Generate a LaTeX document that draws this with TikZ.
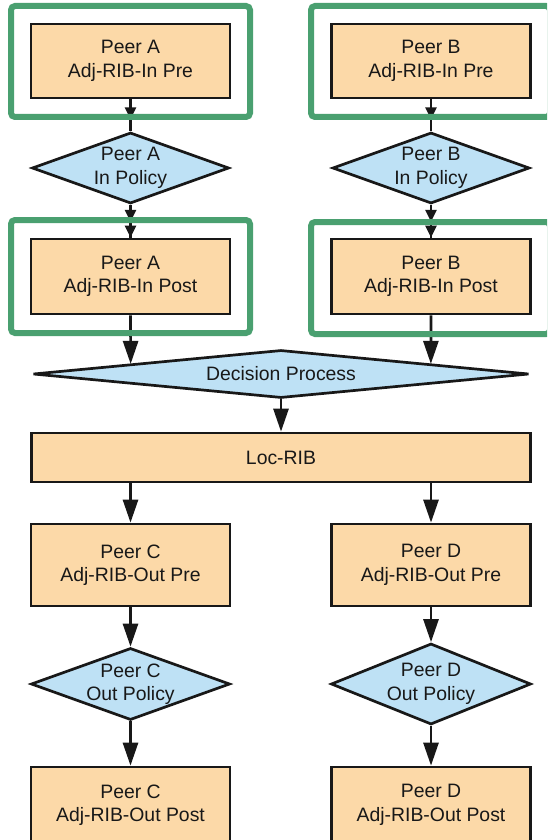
\documentclass[tikz,border=0pt]{standalone}
\usepackage{fontspec}
\setmainfont{Liberation Sans}
\usetikzlibrary{arrows.meta,shapes.geometric,calc,decorations.markings}

\definecolor{ribfill}{RGB}{252,217,168}
\definecolor{polfill}{RGB}{190,225,245}
\definecolor{hlgreen}{RGB}{74,160,112}
\definecolor{ink}{RGB}{24,24,24}

% small arrow head used on the connectors of the inbound section
\newcommand{\smallhead}{\arrow{Triangle[width=11pt,length=12pt]}}

\begin{document}
\begin{tikzpicture}[x=1pt,y=-1pt,
  font=\fontsize{19.4}{23.5}\selectfont,
  rib/.style={draw=ink, line width=2.7pt, fill=ribfill, align=center,
    minimum width=199pt, inner sep=0pt, text=ink},
  pol/.style={diamond, draw=ink, line width=2.7pt, fill=polfill,
    inner sep=0pt, minimum width=197pt, minimum height=71pt},
  plabel/.style={align=center, text=ink, inner sep=0pt},
  bigarr/.style={draw=ink, line width=2.7pt, -{Triangle[width=15pt,length=23pt]}},
  thinline/.style={draw=ink, line width=2.4pt},
  onehead/.style={postaction={decorate},
    decoration={markings, mark=at position #1 with {\smallhead}}},
  twoheads/.style={postaction={decorate},
    decoration={markings, mark=at position #1 with {\smallhead},
      mark=at position 1 with {\smallhead}}},
  hl/.style={draw=hlgreen, line width=6pt, rounded corners=4pt},
]
\useasboundingbox (0,0) rectangle (547,840);
\fill[white] (0,0) rectangle (547,840);
\clip (0,0) rectangle (547,840);

% inbound: pre-policy tables, policies, post-policy tables
\node[rib, minimum height=74pt] (preA) at (130.5,61) {Peer A\\Adj-RIB-In Pre};
\node[rib, minimum height=74pt] (preB) at (431,61) {Peer B\\Adj-RIB-In Pre};
\node[pol, label={[plabel]center:{Peer A\\In Policy}}] (polA) at (130.5,168) {};
\node[pol, label={[plabel]center:{Peer B\\In Policy}}] (polB) at (431,168) {};
\node[rib, minimum height=75pt] (postA) at (130.5,276.5) {Peer A\\Adj-RIB-In Post};
\node[rib, minimum height=75pt] (postB) at (431,276.5) {Peer B\\Adj-RIB-In Post};

% best path selection and the local RIB
\node[pol, minimum width=496pt, minimum height=48pt,
  label={[plabel]center:Decision Process}] (dec) at (281,374) {};
\node[rib, minimum width=499pt, minimum height=49pt] (loc) at (281,457.5) {Loc-RIB};

% outbound: pre-policy tables, policies, post-policy tables
\node[rib, minimum height=82pt] (opreC) at (130.5,565) {Peer C\\Adj-RIB-Out Pre};
\node[rib, minimum height=82pt] (opreD) at (431,565) {Peer D\\Adj-RIB-Out Pre};
\node[pol, minimum width=199pt, minimum height=72pt,
  label={[plabel]center:{Peer C\\Out Policy}}] (opolC) at (130.5,684) {};
\node[pol, minimum width=200pt, minimum height=81pt,
  label={[plabel]center:{Peer D\\Out Policy}}] (opolD) at (431,684) {};
\node[rib, minimum height=76pt] (opostC) at (130.5,805) {Peer C\\Adj-RIB-Out Post};
\node[rib, minimum height=76pt] (opostD) at (431,805) {Peer D\\Adj-RIB-Out Post};

% connectors of the inbound section
\draw[thinline, onehead=0.63] (preA) -- (polA);
\draw[thinline, onehead=0.63] (preB) -- (polB);
\draw[thinline, twoheads=0.52] (polA) -- (postA);
\draw[thinline, twoheads=0.52] (polB) -- (postB);

% into and out of the decision process
\draw[bigarr] (postA) -- ($(dec.west)!0.397!(dec.north)$);
\draw[bigarr] (postB) -- ($(dec.north)!0.601!(dec.east)$);
\draw[bigarr] (dec) -- (loc);

% connectors of the outbound section
\draw[bigarr] (opreC.north |- loc.south) -- (opreC);
\draw[bigarr] (opreD.north |- loc.south) -- (opreD);
\draw[bigarr] (opreC) -- (opolC);
\draw[bigarr] (opreD) -- (opolD);
\draw[bigarr] (opolC) -- (opostC);
\draw[bigarr] (opolD) -- (opostD);

% highlighted tables
\draw[hl] (11,6) rectangle (250,117);
\draw[hl] (311,6) rectangle (550,117);
\draw[hl] (11,220) rectangle (250,333);
\draw[hl] (311,222) rectangle (550,334);
\end{tikzpicture}
\end{document}
